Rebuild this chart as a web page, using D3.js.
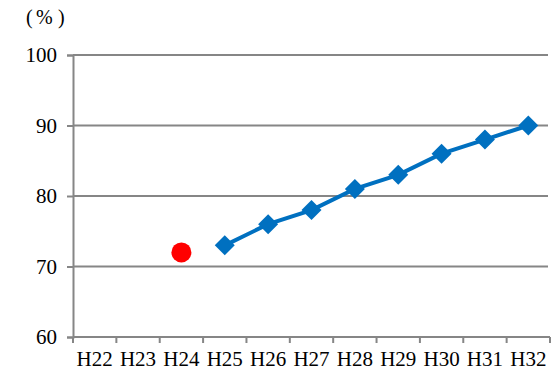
<!DOCTYPE html>
<html>
<head>
<meta charset="utf-8">
<script src="https://cdn.jsdelivr.net/npm/d3@7"></script>
<style>
  html, body { margin: 0; padding: 0; background: #fff; }
  svg { display: block; }
  text { font-family: "Liberation Serif", serif; fill: #000; }
</style>
</head>
<body>
<script>
// Fiscal years (Heisei era)
const years = ["H22", "H23", "H24", "H25", "H26", "H27", "H28", "H29", "H30", "H31", "H32"];
// Actual result (single point)
const actualYears = ["H24"];
const actualValues = [72];
// Target path
const targetYears = ["H25", "H26", "H27", "H28", "H29", "H30", "H31", "H32"];
const targetValues = [73, 76, 78, 81, 83, 86, 88, 90];
// Y axis ticks
const yTicks = [60, 70, 80, 90, 100];

const W = 552, H = 370;
const margin = { left: 73, right: 2, top: 55, bottom: 33 };
const fontSize = 21;

const svg = d3.select("body").append("svg").attr("width", W).attr("height", H);

const x = d3.scaleBand().domain(years).range([margin.left, W - margin.right]);
const y = d3.scaleLinear().domain([60, 100]).range([H - margin.bottom, margin.top]);

const gray = "#868686";

// Horizontal gridlines
svg.append("g").selectAll("line").data(yTicks.filter(d => d > 60)).join("line")
  .attr("x1", margin.left).attr("x2", W - margin.right - 2)
  .attr("y1", d => y(d)).attr("y2", d => y(d))
  .attr("stroke", gray).attr("stroke-width", 2);

// Y axis
const yAxis = svg.append("g").attr("transform", `translate(${margin.left},0)`)
  .call(d3.axisLeft(y).tickValues(yTicks).tickSize(6).tickPadding(10));
yAxis.attr("font-family", null).attr("font-size", null);
yAxis.select(".domain").attr("stroke", gray).attr("stroke-width", 2);
yAxis.selectAll(".tick line").attr("stroke", gray).attr("stroke-width", 2);
yAxis.selectAll(".tick text").attr("font-size", fontSize).attr("dy", "0.33em");

// X axis with ticks on category boundaries
const xAxisG = svg.append("g").attr("transform", `translate(0,${y(60)})`);
xAxisG.append("line")
  .attr("x1", margin.left).attr("x2", W - margin.right)
  .attr("stroke", gray).attr("stroke-width", 2);
const bounds = years.map(d => x(d)).concat([x(years[years.length - 1]) + x.bandwidth()]);
xAxisG.selectAll("line.tk").data(bounds).join("line").attr("class", "tk")
  .attr("x1", d => d).attr("x2", d => d).attr("y1", 0).attr("y2", 6)
  .attr("stroke", gray).attr("stroke-width", 2);
xAxisG.selectAll("text").data(years).join("text")
  .attr("x", d => x(d) + x.bandwidth() / 2).attr("y", 28.5)
  .attr("text-anchor", "middle").attr("font-size", fontSize)
  .text(d => d);

// Unit label
const unit = svg.append("g").attr("font-size", 20);
unit.append("text").attr("x", 26).attr("y", 24).text("(");
unit.append("text").attr("x", 36).attr("y", 24).text("%");
unit.append("text").attr("x", 58).attr("y", 24).text(")");

const cx = d => x(d) + x.bandwidth() / 2;

// Target line
const tData = targetYears.map((d, i) => ({ k: d, v: targetValues[i] }));
svg.append("path").datum(tData)
  .attr("fill", "none").attr("stroke", "#0070C0").attr("stroke-width", 4)
  .attr("d", d3.line().x(d => cx(d.k)).y(d => y(d.v)));

// Diamond markers
svg.append("g").selectAll("path").data(tData).join("path")
  .attr("transform", d => `translate(${cx(d.k)},${y(d.v)})`)
  .attr("d", "M0,-10L10,0L0,10L-10,0Z")
  .attr("fill", "#0070C0");

// Actual point
svg.append("g").selectAll("circle").data(actualYears.map((d, i) => ({ k: d, v: actualValues[i] }))).join("circle")
  .attr("cx", d => cx(d.k)).attr("cy", d => y(d.v)).attr("r", 10)
  .attr("fill", "#FF0000");
</script>
</body>
</html>
